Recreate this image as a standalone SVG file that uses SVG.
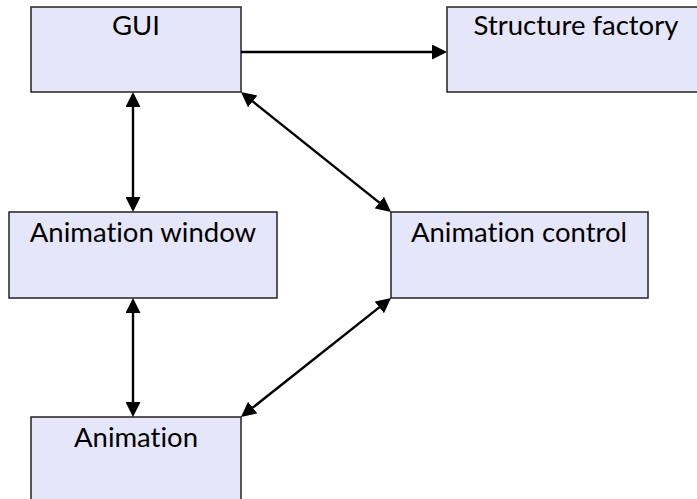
<svg xmlns="http://www.w3.org/2000/svg" width="697" height="499" viewBox="0 0 697 499">
<defs>
<marker id="ah" markerUnits="userSpaceOnUse" markerWidth="15" markerHeight="15" viewBox="0 0 15 15" refX="12" refY="7.5" orient="auto-start-reverse">
<path d="M0,0 L15,7.5 L0,15 z" fill="#000"/>
</marker>
<style>
.box{fill:#e6e6fa;stroke:#222;stroke-width:1.5}
.lbl{font-family:Lato,"Liberation Sans",sans-serif;font-size:27.5px;fill:#000;text-anchor:middle;font-variant-ligatures:none}
.c{stroke:#000;stroke-width:2.4;fill:none}
</style>
</defs>
<rect width="697" height="499" fill="#fff"/>
<g id="gui"><rect class="box" x="31" y="7" width="210" height="85"/><text class="lbl" x="136" y="35">GUI</text></g>
<g id="structure-factory"><rect class="box" x="447" y="7" width="258" height="85"/><text class="lbl" x="576" y="35">Structure factory</text></g>
<g id="animation-window"><rect class="box" x="9" y="212" width="268" height="86"/><text class="lbl" x="143" y="242">Animation window</text></g>
<g id="animation-control"><rect class="box" x="391" y="212" width="257" height="86"/><text class="lbl" x="519" y="242">Animation control</text></g>
<g id="animation"><rect class="box" x="31" y="417" width="210" height="86"/><text class="lbl" x="136" y="447">Animation</text></g>
<g id="connectors">
<path class="c" d="M241,52 L444,52" marker-end="url(#ah)"/>
<path class="c" d="M133,95 L133,209" marker-start="url(#ah)" marker-end="url(#ah)"/>
<path class="c" d="M133,301 L133,414" marker-start="url(#ah)" marker-end="url(#ah)"/>
<path class="c" d="M243.3,93.9 L388.7,210.1" marker-start="url(#ah)" marker-end="url(#ah)"/>
<path class="c" d="M388.7,299.9 L243.3,415.1" marker-start="url(#ah)" marker-end="url(#ah)"/>
</g>
</svg>
